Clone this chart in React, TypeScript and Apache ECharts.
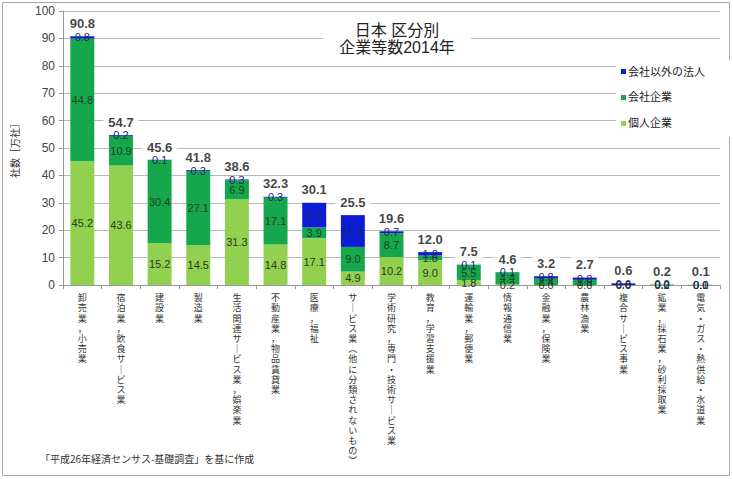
import React, { useEffect, useRef } from "react";
import * as echarts from "echarts";

const categories = [
  "卸売業，小売業",
  "宿泊業，飲食サービス業",
  "建設業",
  "製造業",
  "生活関連サービス業，娯楽業",
  "不動産業，物品賃貸業",
  "医療，福祉",
  "サービス業（他に分類されないもの）",
  "学術研究，専門・技術サービス業",
  "教育，学習支援業",
  "運輸業，郵便業",
  "情報通信業",
  "金融業，保険業",
  "農林漁業",
  "複合サービス事業",
  "鉱業，採石業，砂利採取業",
  "電気・ガス・熱供給・水道業",
];
const kojin = [45.2, 43.6, 15.2, 14.5, 31.3, 14.8, 17.1, 4.9, 10.2, 9.0, 1.8, 0.2, 0.0, 0.0, 0.0, 0.0, 0.0];
const kaisha = [44.8, 10.9, 30.4, 27.1, 6.9, 17.1, 3.9, 9.0, 8.7, 1.8, 5.5, 4.4, 2.4, 1.9, 0.0, 0.2, 0.1];
const igai = [0.8, 0.2, 0.1, 0.3, 0.3, 0.3, 9.0, 11.6, 0.7, 1.2, 0.1, 0.1, 0.8, 0.8, 0.6, 0.0, 0.0];
const totals = [90.8, 54.7, 45.6, 41.8, 38.6, 32.3, 30.1, 25.5, 19.6, 12.0, 7.5, 4.6, 3.2, 2.7, 0.6, 0.2, 0.1];

const FONT = "'Liberation Sans', 'Noto Sans CJK JP', sans-serif";
const JP = "'Noto Sans CJK JP', sans-serif";

const verticalMap: Record<string, string> = {
  "ー": "｜",
  "（": "︵",
  "）": "︶",
};

export default function App() {
  const ref = useRef<HTMLDivElement>(null);
  useEffect(() => {
    if (!ref.current) return;
    const chart = echarts.init(ref.current, null, { renderer: "svg" });
    const segLabel = (color: string) => ({
      show: true,
      position: "inside" as const,
      fontSize: 11,
      fontFamily: FONT,
      color,
      formatter: (p: any) => Number(p.value).toFixed(1),
    });
    chart.setOption({
      animation: false,
      backgroundColor: "#ffffff",
      textStyle: { fontFamily: FONT },
      title: {
        text: "日本 区分別\n企業等数2014年",
        left: 381,
        textAlign: "center",
        top: 19,
        backgroundColor: "#ffffff",
        padding: [3, 16, 3, 16],
        textStyle: { fontSize: 16, fontWeight: "normal", color: "#222", lineHeight: 17, fontFamily: FONT },
      },
      legend: {
        data: ["会社以外の法人", "会社企業", "個人企業"],
        orient: "vertical",
        left: 616,
        top: 60,
        itemWidth: 5,
        itemHeight: 5,
        itemGap: 15,
        icon: "rect",
        backgroundColor: "#ffffff",
        padding: [6, 28, 8, 5],
        textStyle: { fontSize: 11, color: "#222", fontFamily: FONT, padding: [0, 0, 0, -3] },
      },
      grid: { left: 63, right: 13, top: 11, bottom: 194 },
      xAxis: {
        type: "category",
        data: categories,
        axisLine: { lineStyle: { color: "#999" } },
        axisTick: { show: true, length: 4, lineStyle: { color: "#999" } },
        axisLabel: {
          interval: 0,
          margin: 8,
          fontSize: 9,
          lineHeight: 10.2,
          color: "#333",
          fontFamily: FONT,
          verticalAlign: "top",
          formatter: (v: string) =>
            v
              .split("")
              .map((c) => verticalMap[c] || c)
              .join("\n"),
        },
      },
      yAxis: {
        type: "value",
        min: 0,
        max: 100,
        interval: 10,
        name: "社数［万社］",
        nameLocation: "middle",
        nameRotate: 90,
        nameGap: 44,
        nameTextStyle: { fontSize: 10, color: "#333", fontFamily: JP },
        axisLine: { show: true, lineStyle: { color: "#999" } },
        axisTick: { show: true, length: 4, lineStyle: { color: "#999" } },
        axisLabel: { fontSize: 12, color: "#444", margin: 8, fontFamily: FONT },
        splitLine: { lineStyle: { color: "#b8b8b8" } },
      },
      series: [
        {
          name: "個人企業",
          type: "bar",
          stack: "s",
          data: kojin,
          barWidth: "62%",
          itemStyle: { color: "#92d050" },
          label: segLabel("#2a3a20"),
        },
        {
          name: "会社企業",
          type: "bar",
          stack: "s",
          data: kaisha,
          itemStyle: { color: "#16a74c" },
          label: segLabel("#1f3f25"),
        },
        {
          name: "会社以外の法人",
          type: "bar",
          stack: "s",
          data: igai,
          itemStyle: { color: "#0b1bd6" },
          label: segLabel("#1a2a6a"),
        },
        {
          name: "合計",
          type: "scatter",
          data: totals,
          symbolSize: 1,
          itemStyle: { color: "rgba(0,0,0,0)" },
          silent: true,
          z: 5,
          label: {
            show: true,
            position: "top",
            distance: 5,
            fontSize: 13,
            fontWeight: "bold",
            color: "#111",
            fontFamily: FONT,
            backgroundColor: "#ffffff",
            padding: [1, 5, 1, 5],
            formatter: (p: any) => Number(p.value).toFixed(1),
          },
        },
      ],
      graphic: [
        {
          type: "rect",
          shape: { x: 2.5, y: 2.5, width: 727, height: 473 },
          style: { fill: "none", stroke: "#a8a8a8", lineWidth: 1 },
          silent: true,
        },
        {
          type: "text",
          left: 40,
          top: 453,
          style: {
            text: "「平成26年経済センサス-基礎調査」を基に作成",
            fontSize: 10,
            fill: "#333",
            fontFamily: JP,
          },
        },
      ],
    });
    return () => chart.dispose();
  }, []);
  return (
    <div
      ref={ref}
      style={{ position: "fixed", left: 0, top: 0, width: 733, height: 479 }}
    />
  );
}
